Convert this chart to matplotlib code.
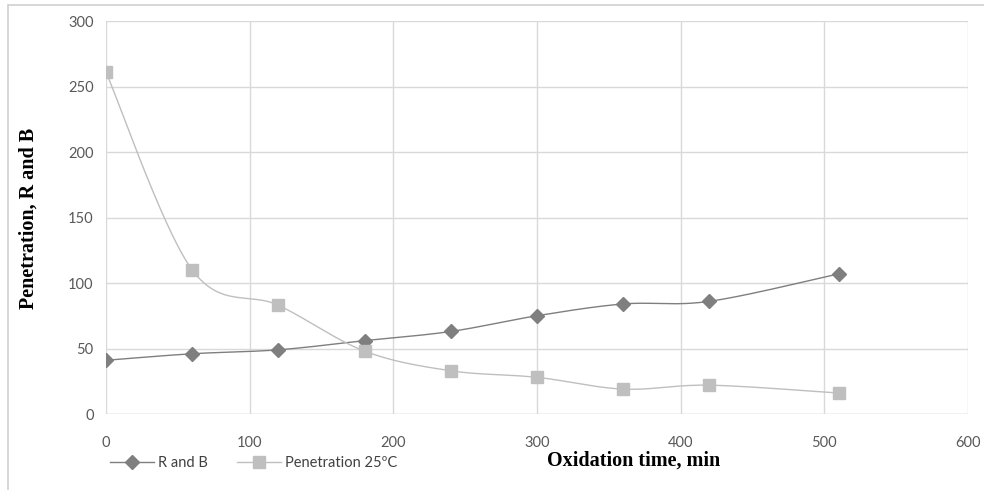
import numpy as np
import matplotlib.pyplot as plt
from matplotlib.patches import Rectangle
from matplotlib.lines import Line2D

# oxidation time (min) and measured values
time_min = [0, 60, 120, 180, 240, 300, 360, 420, 510]
r_and_b = [41, 46, 49, 56, 63, 75, 84, 86, 107]
penetration_25 = [261, 110, 83, 48, 33, 28, 19, 22, 16]

x_ticks = [0, 100, 200, 300, 400, 500, 600]
y_ticks = [0, 50, 100, 150, 200, 250, 300]


def smooth(x, y, n=30):
    """Catmull-Rom curve through the points (spreadsheet-style smoothed line)."""
    p = np.column_stack([x, y]).astype(float)
    p = np.vstack([p[0], p, p[-1]])
    out = []
    t = np.linspace(0, 1, n)[:, None]
    for i in range(1, len(p) - 2):
        p0, p1, p2, p3 = p[i - 1], p[i], p[i + 1], p[i + 2]
        seg = 0.5 * ((2 * p1) + (-p0 + p2) * t
                     + (2 * p0 - 5 * p1 + 4 * p2 - p3) * t ** 2
                     + (-p0 + 3 * p1 - 3 * p2 + p3) * t ** 3)
        out.append(seg if i == 1 else seg[1:])
    s = np.vstack(out)
    return s[:, 0], s[:, 1]


plt.rcParams['font.family'] = ['Lato', 'DejaVu Sans']

W, H = 984, 490
fig = plt.figure(figsize=(W / 100, H / 100), dpi=100)
# chart-area border (top and left edges show)
fig.patches.append(Rectangle((8 / W, -0.1), 1.2, 1.1 - 5 / H,
                             transform=fig.transFigure, fill=False,
                             edgecolor='#d0d0d0', lw=1.2))
ax = fig.add_axes([106 / W, 76 / H, 862 / W, 393 / H])

c_rb = '#7f7f7f'
c_pen = '#bfbfbf'

sx, sy = smooth(time_min, r_and_b)
ax.plot(sx, sy, color=c_rb, lw=1.0, zorder=3)
ax.plot(time_min, r_and_b, ls='none', marker='D', ms=7.5, color=c_rb, zorder=4)

sx, sy = smooth(time_min, penetration_25)
ax.plot(sx, sy, color=c_pen, lw=1.0, zorder=3)
ax.plot(time_min, penetration_25, ls='none', marker='s', ms=8, color=c_pen, zorder=4)

ax.set_xlim(0, 600)
ax.set_ylim(0, 300)
ax.set_xticks(x_ticks)
ax.set_yticks(y_ticks)
ax.grid(True, color='#d9d9d9', lw=1.0)
ax.set_axisbelow(True)
for s in ax.spines.values():
    s.set_visible(False)
ax.axhline(0, color='#d9d9d9', lw=1.0, zorder=1)
ax.tick_params(length=0, labelsize=10.5, labelcolor='#595959')
ax.tick_params(axis='x', pad=16)
ax.tick_params(axis='y', pad=9)

fig.text(29 / W, 1 - 218 / H, 'Penetration, R and B', family='Liberation Serif',
         fontweight='bold', fontsize=14.5, rotation=90, ha='center', va='center')
fig.text(634 / W, 1 - 461 / H, 'Oxidation time, min', family='Liberation Serif',
         fontweight='bold', fontsize=14.5, ha='center', va='center')

handles = [
    Line2D([], [], color=c_rb, lw=1.0, marker='D', ms=7.5),
    Line2D([], [], color=c_pen, lw=1.0, marker='s', ms=8),
]
fig.legend(handles, ['R and B', 'Penetration 25ºC'], loc='center left',
           bbox_to_anchor=(104 / W, 1 - 463 / H), ncol=2, frameon=False,
           fontsize=10.5, labelcolor='#404040', handlelength=3.0,
           handletextpad=0.3, columnspacing=2.0, borderaxespad=0)

fig.savefig('out.png', dpi=100)
